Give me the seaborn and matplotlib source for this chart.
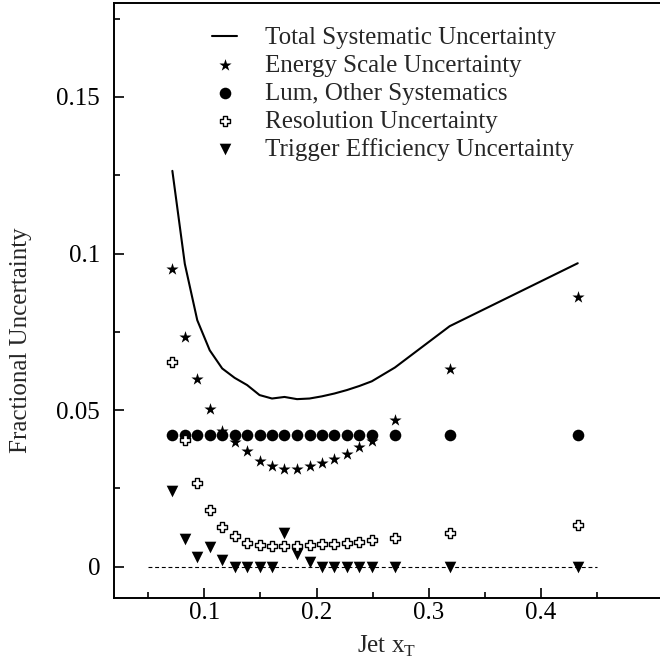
# Systematic uncertainties vs jet xT

import numpy as np
import matplotlib
matplotlib.use('Agg')
import matplotlib.pyplot as plt
from matplotlib.ticker import FixedLocator, FixedFormatter
import seaborn as sns

# Data
xt = [0.0715, 0.0826, 0.0937, 0.1048, 0.1159, 0.1270, 0.1381, 0.1492, 0.1603, 0.1714,
      0.1826, 0.1937, 0.2048, 0.2159, 0.2270, 0.2381, 0.2492, 0.2698, 0.3186, 0.4327]

total_sys = [0.1264, 0.0967, 0.0787, 0.0691, 0.0633, 0.0603, 0.0580, 0.0548, 0.0537, 0.0542,
             0.0535, 0.0537, 0.0544, 0.0553, 0.0564, 0.0577, 0.0592, 0.0636, 0.0768, 0.0969]

energy_scale = [0.0951, 0.0734, 0.0599, 0.0505, 0.0434, 0.0398, 0.0368, 0.0336, 0.0320, 0.0311,
                0.0313, 0.0323, 0.0330, 0.0343, 0.0361, 0.0381, 0.0402, 0.0468, 0.0631, 0.0862]

lum_other = [0.042] * 20

resolution = [0.0654, 0.0405, 0.0267, 0.0180, 0.0128, 0.0098, 0.0076, 0.0069, 0.0066, 0.0065,
              0.0067, 0.0069, 0.0071, 0.0074, 0.0076, 0.0080, 0.0084, 0.0093, 0.0109, 0.0132]

trigger = [0.0241, 0.0087, 0.0032, 0.0063, 0.0022, 0.0, 0.0, 0.0, 0.0, 0.0106,
           0.0041, 0.0014, 0.0, 0.0, 0.0, 0.0, 0.0, 0.0, 0.0, 0.0]

zero_x = [0.05, 0.45]
zero_y = [0.0, 0.0]

x_ticks = [0.1, 0.2, 0.3, 0.4]
x_tick_labels = ['0.1', '0.2', '0.3', '0.4']
x_minor = [0.05, 0.15, 0.25, 0.35, 0.45]
y_ticks = [0.0, 0.05, 0.1, 0.15]
y_tick_labels = ['0', '0.05', '0.1', '0.15']
y_minor = [0.025, 0.075, 0.125, 0.175]

sns.set_style('ticks')
plt.rcParams['font.family'] = ['Liberation Serif', 'DejaVu Serif']
plt.rcParams['mathtext.fontset'] = 'custom'
plt.rcParams['mathtext.rm'] = 'Liberation Serif'
plt.rcParams['font.size'] = 18

fig = plt.figure(figsize=(6.6, 6.66), dpi=100)
ax = fig.add_axes([114 / 660, 1 - 598 / 666, 1 - 114 / 660, (598 - 3) / 666])

# reference line at zero
ax.plot(zero_x, zero_y, color='black', lw=0.8, linestyle=(0, (3.5, 2.5)), zorder=1)

sns.lineplot(x=xt, y=total_sys, color='black', lw=1.5, ax=ax,
             label='Total Systematic Uncertainty', zorder=2)
sns.scatterplot(x=xt, y=energy_scale, marker='*', s=85, color='black', linewidth=0,
                ax=ax, label='Energy Scale Uncertainty', zorder=3)
sns.scatterplot(x=xt, y=lum_other, marker='o', s=70, color='black', linewidth=0,
                ax=ax, label='Lum, Other Systematics', zorder=3)
sns.scatterplot(x=xt, y=resolution, marker='P', s=60, color='white', edgecolor='black',
                linewidth=1.0, ax=ax, label='Resolution Uncertainty', zorder=4)
sns.scatterplot(x=xt, y=trigger, marker='v', s=70, color='black', linewidth=0,
                ax=ax, label='Trigger Efficiency Uncertainty', zorder=3)

ax.set_xlim(0.0195, 0.506)
ax.set_ylim(-0.01, 0.18)

ax.xaxis.set_major_locator(FixedLocator(x_ticks))
ax.xaxis.set_major_formatter(FixedFormatter(x_tick_labels))
ax.xaxis.set_minor_locator(FixedLocator(x_minor))
ax.yaxis.set_major_locator(FixedLocator(y_ticks))
ax.yaxis.set_major_formatter(FixedFormatter(y_tick_labels))
ax.yaxis.set_minor_locator(FixedLocator(y_minor))

ax.tick_params(which='both', direction='in', top=False, right=False, width=1.2, colors='black')
ax.tick_params(which='major', length=7)
ax.tick_params(which='minor', length=4)
ax.tick_params(axis='x', which='major', pad=3, labelsize=18)
ax.tick_params(axis='y', which='major', pad=10, labelsize=18)

for side in ['left', 'bottom', 'top']:
    ax.spines[side].set_linewidth(1.4)
    ax.spines[side].set_color('black')
ax.spines['right'].set_visible(False)

ax.set_xlabel(r'Jet x$_{\rm T}$', fontsize=18)
ax.set_ylabel('Fractional Uncertainty', fontsize=18)
ax.xaxis.set_label_coords(0.5, -0.06)
ax.yaxis.set_label_coords(-0.151, 0.434)

ax.legend(loc='upper left', bbox_to_anchor=(0.1795, 0.96), frameon=False, fontsize=18,
          handlelength=1.0, handletextpad=1.1, labelspacing=0.21, borderpad=0,
          borderaxespad=0, scatterpoints=1)

fig.savefig('out.png', dpi=100)
